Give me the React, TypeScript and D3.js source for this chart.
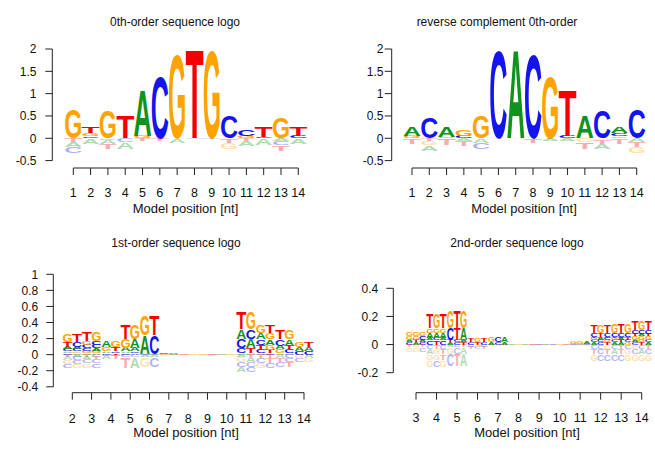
import React from "react";
import * as d3 from "d3";

type Stack = [string, number][];

const COLORS: Record<string, string> = { A: "#11931b", C: "#1414ee", G: "#ffa300", T: "#f40000" };
const FONT = "Liberation Sans, Arial, Helvetica, sans-serif";
const CAP = 72; // cap height of the bold font at 100px

// ---- 0th-order logo (positions 1..14)
const pos0 = [1, 2, 3, 4, 5, 6, 7, 8, 9, 10, 11, 12, 13, 14];
const order0Up: Stack[] = [
  [["G", 0.66]],
  [["C", 0.04], ["G", 0.07], ["T", 0.14]],
  [["G", 0.64]],
  [["T", 0.5]],
  [["G", 0.05], ["A", 1.05]],
  [["C", 1.4]],
  [["G", 1.92]],
  [["T", 2.02]],
  [["G", 1.99]],
  [["C", 0.52]],
  [["G", 0.05], ["C", 0.15]],
  [["C", 0.03], ["T", 0.25]],
  [["G", 0.49]],
  [["C", 0.05], ["T", 0.2]],
];
const order0Down: Stack[] = [
  [["T", 0.08], ["A", 0.12], ["C", 0.14]],
  [["A", 0.12]],
  [["C", 0.03], ["A", 0.09], ["T", 0.13]],
  [["C", 0.08], ["A", 0.16]],
  [["T", 0.07]],
  [["T", 0.07]],
  [["A", 0.1]],
  [["C", 0.01]],
  [["C", 0.01]],
  [["T", 0.1], ["G", 0.15]],
  [["T", 0.05], ["A", 0.12]],
  [["A", 0.14]],
  [["A", 0.07], ["C", 0.08], ["T", 0.13]],
  [["A", 0.13]],
];

// ---- reverse complement 0th-order
const rcUp: Stack[] = [
  [["G", 0.05], ["A", 0.2]],
  [["C", 0.49]],
  [["G", 0.03], ["A", 0.25]],
  [["C", 0.05], ["G", 0.15]],
  [["G", 0.52]],
  [["C", 1.99]],
  [["A", 2.02]],
  [["C", 1.92]],
  [["G", 1.4]],
  [["C", 0.05], ["T", 1.05]],
  [["A", 0.5]],
  [["C", 0.64]],
  [["G", 0.04], ["C", 0.07], ["A", 0.14]],
  [["C", 0.66]],
];
const rcDown: Stack[] = [
  [["T", 0.13]],
  [["T", 0.07], ["G", 0.08], ["A", 0.13]],
  [["T", 0.14]],
  [["A", 0.05], ["T", 0.12]],
  [["A", 0.1], ["C", 0.15]],
  [["G", 0.01]],
  [["G", 0.01]],
  [["T", 0.1]],
  [["A", 0.07]],
  [["A", 0.07]],
  [["G", 0.08], ["T", 0.16]],
  [["G", 0.03], ["T", 0.09], ["A", 0.13]],
  [["T", 0.12]],
  [["A", 0.08], ["T", 0.12], ["G", 0.14]],
];

// ---- 1st-order logo (positions 2..14)
const pos1 = [2, 3, 4, 5, 6, 7, 8, 9, 10, 11, 12, 13, 14];
const order1Up: Stack[] = [
  [["CA", 0.02], ["AG", 0.02], ["CC", 0.03], ["AA", 0.03], ["TC", 0.06], ["GT", 0.1]],
  [["AA", 0.02], ["GG", 0.03], ["CA", 0.03], ["CC", 0.04], ["GC", 0.05], ["TG", 0.12]],
  [["CT", 0.02], ["AC", 0.02], ["GT", 0.05], ["AG", 0.08]],
  [["CA", 0.02], ["AC", 0.02], ["AA", 0.04], ["GA", 0.11], ["TG", 0.18]],
  [["CA", 0.01], ["AC", 0.23], ["GT", 0.25]],
  [["GA", 0.01], ["CA", 0.015]],
  [["TG", 0.004]],
  [["GT", 0.004]],
  [["AG", 0.004]],
  [["AA", 0.02], ["CT", 0.06], ["CA", 0.12], ["AC", 0.12], ["TG", 0.21]],
  [["AC", 0.02], ["CT", 0.04], ["TG", 0.06], ["CA", 0.07], ["AG", 0.08], ["GT", 0.1]],
  [["AA", 0.02], ["GC", 0.05], ["AT", 0.04], ["CA", 0.08], ["TG", 0.12]],
  [["CC", 0.05], ["AA", 0.05], ["GT", 0.06]],
];
const order1Down: Stack[] = [
  [["TA", 0.03], ["AC", 0.04], ["GC", 0.05], ["CG", 0.05]],
  [["TC", 0.03], ["AT", 0.03], ["CC", 0.05], ["GC", 0.05]],
  [["CG", 0.02], ["AT", 0.04]],
  [["CC", 0.03], ["TA", 0.13]],
  [["AA", 0.03], ["GC", 0.12]],
  [["TT", 0.005]],
  [["GG", 0.003]],
  [["TT", 0.003]],
  [["GG", 0.003]],
  [["AT", 0.03], ["GA", 0.06], ["CC", 0.06], ["AC", 0.06]],
  [["TT", 0.04], ["CT", 0.06], ["GC", 0.06]],
  [["AC", 0.04], ["TC", 0.05], ["CT", 0.06]],
  [["GA", 0.04], ["CG", 0.05]],
];

// ---- 2nd-order logo (positions 3..14)
const pos2 = [3, 4, 5, 6, 7, 8, 9, 10, 11, 12, 13, 14];
const order2Up: Stack[] = [
  [["CAC", 0.02], ["ATA", 0.015], ["GGC", 0.025], ["GGG", 0.025]],
  [["CTC", 0.03], ["ACA", 0.02], ["AAA", 0.035], ["GGG", 0.03], ["TGT", 0.105]],
  [["ACT", 0.015], ["TCA", 0.02], ["CTA", 0.08], ["GTG", 0.12]],
  [["CTC", 0.02], ["TGT", 0.025]],
  [["ACA", 0.02], ["GCA", 0.035]],
  [["AGA", 0.003]],
  [["TCA", 0.003]],
  [["CGT", 0.003]],
  [["CAC", 0.006], ["GGA", 0.014]],
  [["ACT", 0.015], ["CCG", 0.015], ["GAC", 0.015], ["TAT", 0.01], ["CTC", 0.025], ["TGT", 0.06]],
  [["AAG", 0.015], ["CTC", 0.015], ["GAT", 0.015], ["TCG", 0.01], ["CCC", 0.03], ["GTG", 0.065]],
  [["CTA", 0.015], ["AGC", 0.02], ["GGG", 0.025], ["TAT", 0.015], ["CCC", 0.03], ["TGT", 0.07]],
];
const order2Down: Stack[] = [
  [["TGT", 0.02], ["GGC", 0.03]],
  [["CTC", 0.03], ["AGT", 0.04], ["GGT", 0.04], ["GCG", 0.05]],
  [["ACT", 0.02], ["GCA", 0.05], ["CTA", 0.08]],
  [["CGC", 0.02], ["TCT", 0.015]],
  [["TTT", 0.005]],
  [["GGG", 0.002]],
  [["TTT", 0.002]],
  [["GGG", 0.002]],
  [["TTT", 0.005]],
  [["CCG", 0.03], ["TCT", 0.04], ["GCC", 0.05]],
  [["CTC", 0.03], ["ATG", 0.04], ["CCG", 0.05]],
  [["GCT", 0.03], ["CAC", 0.04], ["GGG", 0.05]],
];

// tick labels
const yTicks0 = [-0.5, 0, 0.5, 1, 1.5, 2];
const yTicks1 = [-0.4, -0.2, 0, 0.2, 0.4, 0.6, 0.8, 1];
const yTicks2 = [-0.2, 0, 0.2, 0.4];

type PanelProps = {
  title: string;
  titleX: number;
  titleY: number;
  positions: number[];
  up: Stack[];
  down: Stack[];
  yTicks: number[];
  yDomain: [number, number];
  yRange: [number, number];
  xFirst: number;
  xLast: number;
  axisX: number;
  labelEnd: number;
  xAxisY: number;
  tickLabelY: number;
  xLabelX: number;
  xLabelY: number;
};

function Glyph({ kmer, x0, w, yTop, yBot, faded }: { kmer: string; x0: number; w: number; yTop: number; yBot: number; faded: boolean }) {
  const h = yBot - yTop;
  const cw = w / kmer.length;
  const op = faded ? 0.33 : 1;
  return (
    <g opacity={op}>
      {kmer.split("").map((ch, i) =>
        h < 1.2 ? (
          <rect key={i} x={x0 + i * cw} y={yTop} width={cw} height={Math.max(h, 0.6)} fill={COLORS[ch]} opacity={0.6} />
        ) : (
          // stretch glyph to fill its box; widen a little to eat the side bearings
          <text
            key={i}
            transform={`translate(${x0 + i * cw - cw * 0.04},${yBot}) scale(1,${h / CAP})`}
            fontSize={100}
            fontWeight="bold"
            fontFamily={FONT}
            textLength={cw * 1.08}
            lengthAdjust="spacingAndGlyphs"
            fill={COLORS[ch]}
          >
            {ch}
          </text>
        )
      )}
    </g>
  );
}

function Panel(p: PanelProps) {
  const y = d3.scaleLinear().domain(p.yDomain).range(p.yRange);
  const first = p.positions[0];
  const last = p.positions[p.positions.length - 1];
  const x = d3.scaleLinear().domain([first, last]).range([p.xFirst, p.xLast]);
  const step = x(first + 1) - x(first);
  const w = step * 0.97;

  const marks: React.ReactNode[] = [];
  p.positions.forEach((pos, i) => {
    const x0 = x(pos) - w / 2;
    let cum = 0;
    p.up[i].forEach(([k, v], j) => {
      marks.push(<Glyph key={`u${i}-${j}`} kmer={k} x0={x0} w={w} yTop={y(cum + v)} yBot={y(cum)} faded={false} />);
      cum += v;
    });
    cum = 0;
    p.down[i].forEach(([k, v], j) => {
      marks.push(<Glyph key={`d${i}-${j}`} kmer={k} x0={x0} w={w} yTop={y(-cum)} yBot={y(-cum - v)} faded={true} />);
      cum += v;
    });
  });

  const ax = "#222";
  return (
    <g>
      <text x={p.titleX} y={p.titleY} textAnchor="middle" fontSize={12} fontFamily={FONT} fill="#111">
        {p.title}
      </text>
      {marks}
      {/* y axis */}
      <line x1={p.axisX} x2={p.axisX} y1={y(p.yTicks[0])} y2={y(p.yTicks[p.yTicks.length - 1])} stroke={ax} strokeWidth={1} />
      {p.yTicks.map((t) => (
        <g key={t}>
          <line x1={p.axisX - 7} x2={p.axisX} y1={y(t)} y2={y(t)} stroke={ax} strokeWidth={1} />
          <text x={p.labelEnd} y={y(t) + 4.3} textAnchor="end" fontSize={12} fontFamily={FONT} fill="#111">
            {String(t)}
          </text>
        </g>
      ))}
      {/* x axis */}
      <line x1={x(first)} x2={x(last)} y1={p.xAxisY} y2={p.xAxisY} stroke={ax} strokeWidth={1} />
      {p.positions.map((pos) => (
        <g key={pos}>
          <line x1={x(pos)} x2={x(pos)} y1={p.xAxisY} y2={p.xAxisY + 7} stroke={ax} strokeWidth={1} />
          <text x={x(pos)} y={p.tickLabelY} textAnchor="middle" fontSize={12.5} fontFamily={FONT} fill="#111">
            {pos}
          </text>
        </g>
      ))}
      <text x={p.xLabelX} y={p.xLabelY} textAnchor="middle" fontSize={13} fontFamily={FONT} fill="#111">
        Model position [nt]
      </text>
    </g>
  );
}

export default function App() {
  return (
    <svg width={655} height={454} style={{ position: "absolute", left: 0, top: 0, background: "#fff" }}>
      <Panel
        title="0th-order sequence logo"
        titleX={175}
        titleY={26}
        positions={pos0}
        up={order0Up}
        down={order0Down}
        yTicks={yTicks0}
        yDomain={[-0.5, 2]}
        yRange={[160.6, 49]}
        xFirst={73.3}
        xLast={298.3}
        axisX={52.3}
        labelEnd={36.5}
        xAxisY={168}
        tickLabelY={196.5}
        xLabelX={185.5}
        xLabelY={213}
      />
      <Panel
        title="reverse complement 0th-order"
        titleX={497}
        titleY={26}
        positions={pos0}
        up={rcUp}
        down={rcDown}
        yTicks={yTicks0}
        yDomain={[-0.5, 2]}
        yRange={[160.6, 49]}
        xFirst={412}
        xLast={636.7}
        axisX={391.7}
        labelEnd={383.5}
        xAxisY={168}
        tickLabelY={196.5}
        xLabelX={524}
        xLabelY={213}
      />
      <Panel
        title="1st-order sequence logo"
        titleX={176}
        titleY={247}
        positions={pos1}
        up={order1Up}
        down={order1Down}
        yTicks={yTicks1}
        yDomain={[-0.4, 1]}
        yRange={[386.8, 274.3]}
        xFirst={72.3}
        xLast={304}
        axisX={53.3}
        labelEnd={38.3}
        xAxisY={392.7}
        tickLabelY={422.6}
        xLabelX={186}
        xLabelY={437.4}
      />
      <Panel
        title="2nd-order sequence logo"
        titleX={517}
        titleY={247}
        positions={pos2}
        up={order2Up}
        down={order2Down}
        yTicks={yTicks2}
        yDomain={[-0.2, 0.4]}
        yRange={[372.7, 288.3]}
        xFirst={416}
        xLast={641.7}
        axisX={393.3}
        labelEnd={378.3}
        xAxisY={392.7}
        tickLabelY={422}
        xLabelX={527}
        xLabelY={437.4}
      />
    </svg>
  );
}
